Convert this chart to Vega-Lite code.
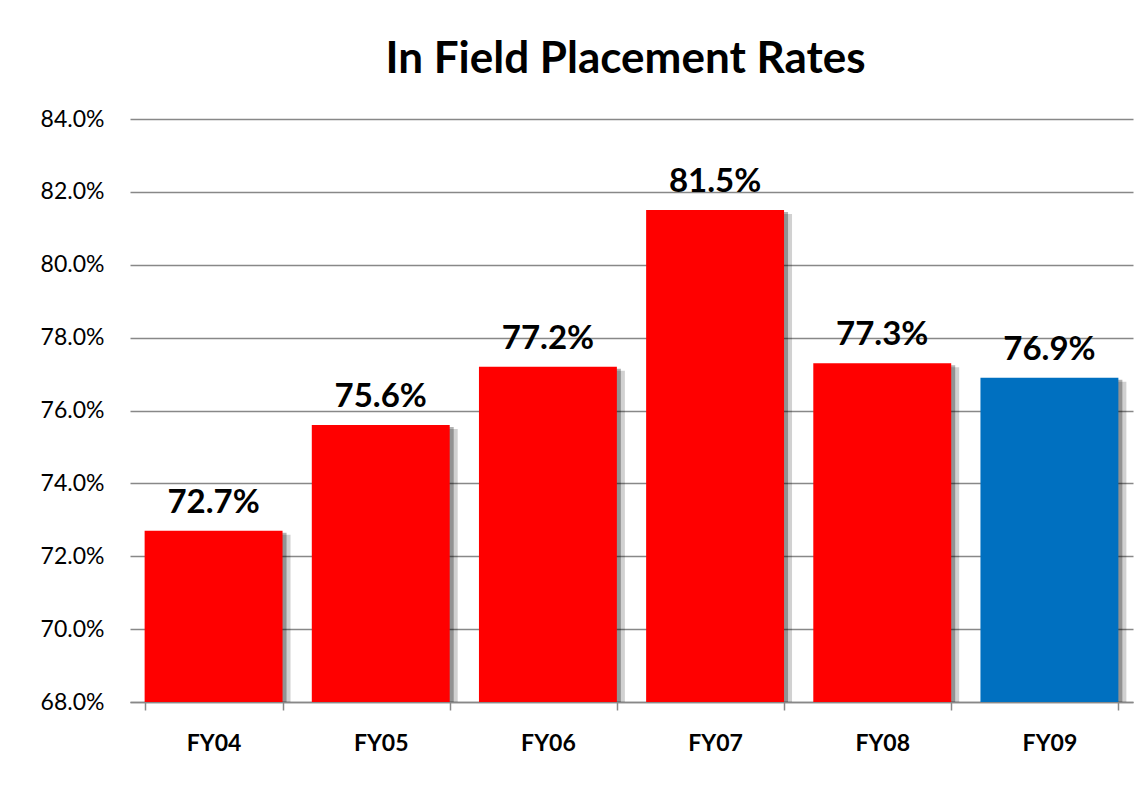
{
  "$schema": "https://vega.github.io/schema/vega-lite/v6.json",
  "width": 1003,
  "height": 583,
  "autosize": {"type": "none"},
  "padding": {"left": 130, "top": 119, "right": 14, "bottom": 84},
  "background": "white",
  "title": {
    "text": "In Field Placement Rates",
    "font": "Lato",
    "fontSize": 44,
    "fontWeight": "bold",
    "color": "black",
    "anchor": "middle",
    "dx": -6,
    "offset": 26
  },
  "data": {
    "values": [
      {"year": "FY04", "rate": 0.727, "group": "past"},
      {"year": "FY05", "rate": 0.756, "group": "past"},
      {"year": "FY06", "rate": 0.772, "group": "past"},
      {"year": "FY07", "rate": 0.815, "group": "past"},
      {"year": "FY08", "rate": 0.773, "group": "past"},
      {"year": "FY09", "rate": 0.769, "group": "current"}
    ]
  },
  "encoding": {
    "x": {
      "field": "year",
      "type": "nominal",
      "sort": null,
      "scale": {"paddingInner": 0.175, "paddingOuter": 0.0875},
      "axis": {
        "title": null,
        "labelAngle": 0,
        "labelFont": "Lato",
        "labelFontSize": 23,
        "labelFontWeight": "bold",
        "labelColor": "black",
        "labelPadding": 22,
        "domainColor": "#888888",
        "domainWidth": 1.5,
        "tickColor": "#888888",
        "tickWidth": 1.5,
        "tickSize": 8,
        "tickBand": "extent",
        "grid": false
      }
    },
    "y": {
      "field": "rate",
      "type": "quantitative",
      "scale": {"domain": [0.68, 0.84], "zero": false, "nice": false},
      "axis": {
        "title": null,
        "format": ".1%",
        "values": [0.68, 0.70, 0.72, 0.74, 0.76, 0.78, 0.80, 0.82, 0.84],
        "labelOverlap": false,
        "labelFont": "Lato",
        "labelFontSize": 23,
        "labelColor": "black",
        "labelPadding": 26,
        "domain": false,
        "ticks": false,
        "grid": true,
        "gridColor": "#888888",
        "gridWidth": 1.5
      }
    }
  },
  "layer": [
    {
      "mark": {"type": "bar", "color": "#000000", "opacity": 0.18, "xOffset": 8, "yOffset": 4},
      "encoding": {"y2": {"datum": 0.68}}
    },
    {
      "mark": {"type": "bar", "color": "#000000", "opacity": 0.3, "xOffset": 4, "yOffset": 2},
      "encoding": {"y2": {"datum": 0.68}}
    },
    {
      "mark": {"type": "bar"},
      "encoding": {
        "y2": {"datum": 0.68},
        "color": {
          "field": "group",
          "type": "nominal",
          "scale": {"domain": ["past", "current"], "range": ["#FF0000", "#0070C0"]},
          "legend": null
        }
      }
    },
    {
      "mark": {"type": "text", "dy": -18, "font": "Lato", "fontSize": 33, "fontWeight": "bold", "color": "black", "baseline": "alphabetic"},
      "encoding": {
        "text": {"field": "rate", "type": "quantitative", "format": ".1%"}
      }
    }
  ],
  "config": {"view": {"stroke": null}}
}
